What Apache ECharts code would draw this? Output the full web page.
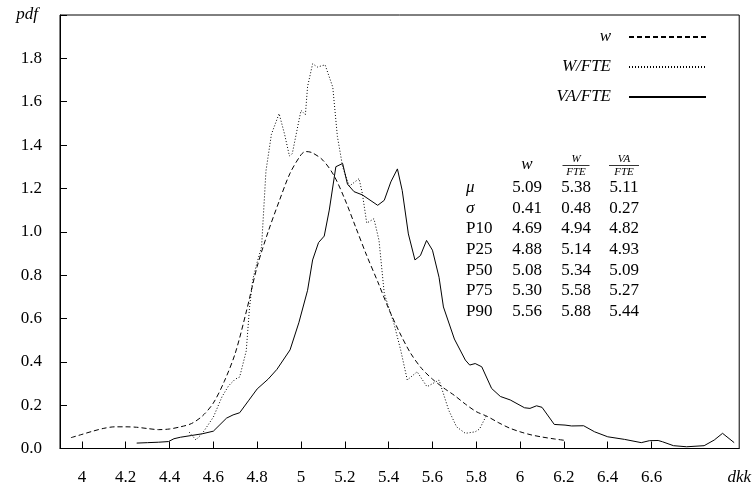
<!DOCTYPE html>
<html>
<head>
<meta charset="utf-8">
<script src="https://cdn.jsdelivr.net/npm/echarts@6/dist/echarts.min.js"></script>
<style>html,body{margin:0;padding:0;background:#fff;}#c{width:754px;height:487px;}</style>
</head>
<body>
<div id="c"></div>
<script>
// ---- data ----
var wX = [3.95,4.0,4.05,4.1,4.15,4.2,4.25,4.3,4.35,4.4,4.45,4.5,4.55,4.6,4.65,4.7,4.75,4.8,4.85,4.9,4.95,5.0,5.02,5.05,5.1,5.15,5.2,5.25,5.3,5.35,5.4,5.45,5.5,5.55,5.6,5.65,5.7,5.75,5.8,5.85,5.9,5.95,6.0,6.05,6.1,6.15,6.2];
var wY = [0.05,0.065,0.08,0.093,0.1,0.1,0.098,0.092,0.087,0.09,0.1,0.115,0.15,0.21,0.31,0.44,0.63,0.84,1.0,1.14,1.27,1.355,1.37,1.365,1.33,1.26,1.15,1.02,0.89,0.77,0.645,0.535,0.44,0.37,0.32,0.28,0.245,0.205,0.17,0.148,0.12,0.095,0.077,0.063,0.053,0.045,0.038];

var wfteX = [4.49,4.52,4.55,4.6,4.64,4.67,4.7,4.72,4.75,4.765,4.78,4.8,4.82,4.84,4.865,4.9,4.925,4.947,4.96,5.0,5.02,5.03,5.053,5.075,5.11,5.145,5.166,5.19,5.22,5.265,5.28,5.3,5.333,5.356,5.38,5.424,5.455,5.485,5.53,5.575,5.63,5.674,5.71,5.75,5.795,5.815,5.845];
var wfteY = [0.075,0.04,0.07,0.145,0.24,0.29,0.32,0.33,0.45,0.65,0.78,0.86,0.93,1.28,1.45,1.545,1.45,1.35,1.36,1.56,1.54,1.67,1.775,1.76,1.77,1.667,1.44,1.3,1.21,1.245,1.176,1.04,1.06,0.96,0.715,0.577,0.454,0.316,0.354,0.285,0.316,0.177,0.1,0.07,0.077,0.09,0.15];

var vafteX = [4.25,4.3,4.35,4.395,4.42,4.45,4.5,4.55,4.6,4.63,4.66,4.69,4.72,4.76,4.8,4.85,4.89,4.95,4.99,5.03,5.053,5.08,5.106,5.129,5.159,5.19,5.212,5.242,5.28,5.35,5.38,5.41,5.44,5.462,5.49,5.52,5.545,5.573,5.6,5.63,5.65,5.7,5.75,5.77,5.795,5.825,5.87,5.91,5.955,6.02,6.045,6.075,6.1,6.156,6.205,6.235,6.29,6.34,6.4,6.477,6.553,6.59,6.63,6.65,6.7,6.76,6.84,6.886,6.924,6.977];
var vafteY = [0.025,0.027,0.029,0.032,0.045,0.052,0.06,0.068,0.08,0.11,0.14,0.155,0.165,0.22,0.275,0.32,0.365,0.455,0.58,0.73,0.87,0.95,0.98,1.1,1.3,1.315,1.22,1.185,1.17,1.122,1.145,1.23,1.29,1.19,0.99,0.87,0.89,0.96,0.915,0.79,0.653,0.505,0.408,0.385,0.392,0.377,0.277,0.24,0.224,0.188,0.185,0.197,0.19,0.111,0.108,0.104,0.105,0.077,0.054,0.042,0.027,0.036,0.037,0.031,0.013,0.008,0.013,0.039,0.07,0.027];

var seriesNames = ['w', 'W/FTE', 'VA/FTE'];
var xLabelValues = [4,4.2,4.4,4.6,4.8,5,5.2,5.4,5.6,5.8,6,6.2,6.4,6.6,7];
var xTickValues = [4,4.2,4.4,4.6,4.8,5,5.2,5.4,5.6,5.8,6,6.2,6.4,6.6];
var xAxisName = 'dkk';
var yAxisName = 'pdf';

var statRows = ['μ','σ','P10','P25','P50','P75','P90'];
var statItalic = [true,true,false,false,false,false,false];
var wStats = [5.09,0.41,4.69,4.88,5.08,5.30,5.56];
var wfteStats = [5.38,0.48,4.94,5.14,5.34,5.58,5.88];
var vafteStats = [5.11,0.27,4.82,4.93,5.09,5.27,5.44];

function pairs(xs, ys){ return xs.map(function(x,i){return [x, ys[i]];}); }

var FONT = '"Liberation Serif", "DejaVu Serif", serif';

// ---- stats table as text ----
var graphics = [];
var colX = [527, 576, 624];
var row0 = 187.5, rowStep = 20.7;
graphics.push({type:'text', style:{text:'w', x:colX[0], y:165, font:'italic 17px ' + FONT, textAlign:'center', textVerticalAlign:'middle', fill:'#000'}});
function frac(cx, num, w){
  graphics.push({type:'text', style:{text:num, x:cx, y:159.5, font:'italic 11px ' + FONT, textAlign:'center', textVerticalAlign:'middle', fill:'#000'}});
  graphics.push({type:'line', shape:{x1:cx-w/2, y1:165.5, x2:cx+w/2, y2:165.5}, style:{stroke:'#000', lineWidth:0.8}});
  graphics.push({type:'text', style:{text:'FTE', x:cx, y:172.5, font:'italic 11px ' + FONT, textAlign:'center', textVerticalAlign:'middle', fill:'#000'}});
}
frac(colX[1], 'W', 27);
frac(colX[2], 'VA', 30);
statRows.forEach(function(r, i){
  var y = row0 + i*rowStep;
  graphics.push({type:'text', style:{text:r, x:466, y:y, font:(statItalic[i]?'italic ':'') + '17px ' + FONT, textAlign:'left', textVerticalAlign:'middle', fill:'#000'}});
  [wStats, wfteStats, vafteStats].forEach(function(arr, j){
    graphics.push({type:'text', style:{text:arr[i].toFixed(2), x:colX[j], y:y, font:'17px ' + FONT, textAlign:'center', textVerticalAlign:'middle', fill:'#000'}});
  });
});

var chart = echarts.init(document.getElementById('c'), null, {renderer:'canvas'});
chart.setOption({
  animation:false,
  backgroundColor:'#fff',
  grid:{left:60, right:12, top:15, bottom:38.5, show:true, borderColor:'#000', borderWidth:1, containLabel:false},
  legend:{
    orient:'vertical', right:47, top:27, align:'right', padding:0,
    itemWidth:77, itemHeight:14, itemGap:10,
    data: seriesNames,
    itemStyle:{opacity:0},
    textStyle:{fontFamily:FONT, fontSize:17, fontStyle:'italic', color:'#000', lineHeight:20, padding:[0,13,0,0]}
  },
  xAxis:{
    type:'value', min:3.9, max:7.0,
    splitLine:{show:false},
    axisLine:{show:true, lineStyle:{color:'#000', width:1}},
    axisTick:{show:true, inside:true, length:7, customValues:xTickValues, lineStyle:{color:'#000', width:1}},
    axisLabel:{customValues:xLabelValues, margin:21, color:'#000', fontFamily:FONT, fontSize:17,
      formatter:function(v){ if (Math.abs(v-7)<1e-6) return '{i|' + xAxisName + '}'; return String(Math.round(v*10)/10); },
      rich:{i:{fontStyle:'italic', fontFamily:FONT, fontSize:17, color:'#000'}}}
  },
  yAxis:{
    type:'value', min:0, max:2.0, interval:0.2,
    splitLine:{show:false},
    axisLine:{show:true, lineStyle:{color:'#000', width:1}},
    axisTick:{show:true, inside:true, length:7, lineStyle:{color:'#000', width:1}},
    axisLabel:{margin:18, color:'#000', fontFamily:FONT, fontSize:17,
      formatter:function(v){ if (Math.abs(v-2)<1e-6) return '{i|' + yAxisName + '}'; return v.toFixed(1); },
      rich:{i:{fontStyle:'italic', fontFamily:FONT, fontSize:17, color:'#000', padding:[0,4,0,0]}}}
  },
  series:[
    {name:seriesNames[0], type:'line', data:pairs(wX,wY), showSymbol:false, symbol:'none', smooth:0.3,
     lineStyle:{color:'#000', width:1, type:[5,3]}, itemStyle:{color:'#000'}},
    {name:seriesNames[1], type:'line', data:pairs(wfteX,wfteY), showSymbol:false, symbol:'none',
     lineStyle:{color:'#000', width:1, type:[1,2]}, itemStyle:{color:'#000'}},
    {name:seriesNames[2], type:'line', data:pairs(vafteX,vafteY), showSymbol:false, symbol:'none',
     lineStyle:{color:'#000', width:1, type:'solid'}, itemStyle:{color:'#000'}}
  ],
  graphic: graphics
});
</script>
</body>
</html>
